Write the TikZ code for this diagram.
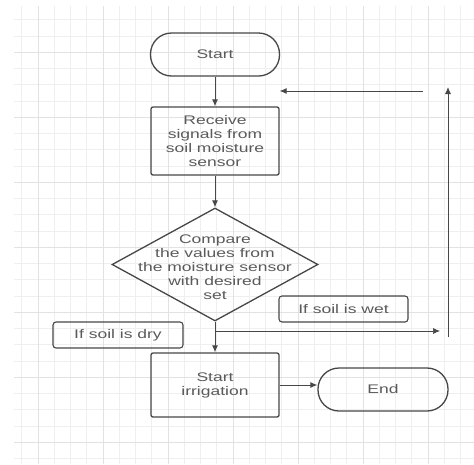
\documentclass[tikz,border=0pt]{standalone}
\usepackage{fontspec}
\newfontfamily\chartfont{Liberation Sans}[FakeStretch=1.4]
\usepackage{tikz}
\usetikzlibrary{arrows.meta,shapes.geometric}
\definecolor{inkgray}{HTML}{474747}
\definecolor{textgray}{HTML}{5A5A5A}
\definecolor{gridminor}{HTML}{EFEFEF}
\definecolor{gridmajor}{HTML}{E2E2E2}
\tikzset{
  flowtext/.style={text=textgray,align=center,inner sep=0pt,
    font=\chartfont\fontsize{12.5}{14}\selectfont},
  terminal/.style={flowtext,draw=inkgray,line width=1.3pt,rounded corners=21pt,
    minimum width=129pt,minimum height=43pt},
  process/.style={flowtext,draw=inkgray,line width=1.3pt,rounded corners=2pt,
    minimum width=128pt},
  decision/.style={diamond,draw=inkgray,line width=1.3pt,inner sep=0pt,
    minimum width=206pt,minimum height=113pt},
  note/.style={flowtext,draw=inkgray,line width=1.1pt,rounded corners=3pt,
    minimum width=129pt,minimum height=26pt},
  flowline/.style={draw=inkgray,line width=0.9pt},
}

\begin{document}
\begin{tikzpicture}[x=1pt,y=-1pt,>={Latex[length=7pt,width=6pt]}]
  % Page and grid
  \useasboundingbox[fill=white] (0,0) rectangle (474,464);
  \begin{scope}
    \clip (14,6) rectangle (474,464);
    \foreach \i in {0,...,28}
      \draw[gridminor,line width=0.6pt] ({21.75+\i*16.25},6) -- ({21.75+\i*16.25},464);
    \foreach \i in {0,...,27}
      \draw[gridminor,line width=0.6pt] (14,{19.75+\i*16.25}) -- (474,{19.75+\i*16.25});
    \foreach \i in {0,...,6} {
      \draw[gridmajor,line width=0.8pt] ({38+\i*65},6) -- ({38+\i*65},464);
      \draw[gridmajor,line width=0.8pt] (14,{52+\i*65}) -- (474,{52+\i*65});
    }
  \end{scope}
  %
  % Steps
  \node[terminal] (start) at (215,54.5) {Start};
  \node[process,minimum height=68pt] (recv) at (215,141)
    {Receive\\signals from\\soil moisture\\sensor};
  \node[decision] (cmp) at (215,264.5) {};
  \node[flowtext] (cmptext) at (215,267)
    {Compare\\the values from\\the moisture sensor\\with desired\\set};
  \node[process,minimum height=64pt] (irr) at (215,385) {Start\\irrigation};
  \node[terminal,minimum width=130pt] (end) at (383,389.5) {End};
  %
  % Branch labels
  \node[note] (wet) at (343.5,309) {If soil is wet};
  \node[note,minimum width=130pt] (dry) at (118,335) {If soil is dry};
  %
  % Loose ends of the return path
  \coordinate (split) at (215,331);
  \coordinate (wetend) at (440,331);
  \coordinate (upfoot) at (448,337);
  \coordinate (uptop) at (448,87);
  \coordinate (backfrom) at (423,91);
  %
  % Connectors
  \draw[flowline,->] (start) -- (recv);
  \draw[flowline,->] (recv) -- (cmp);
  \draw[flowline,->] (cmp) -- (irr);
  \draw[flowline,->] (irr.east) -- (irr.east -| end.west);
  \draw[flowline,line width=0.7pt,->] (split) -- (wetend);
  \draw[flowline,->] (upfoot) -- (uptop);
  \draw[flowline,->] (backfrom) -- (backfrom -| recv.east);
\end{tikzpicture}
\end{document}
